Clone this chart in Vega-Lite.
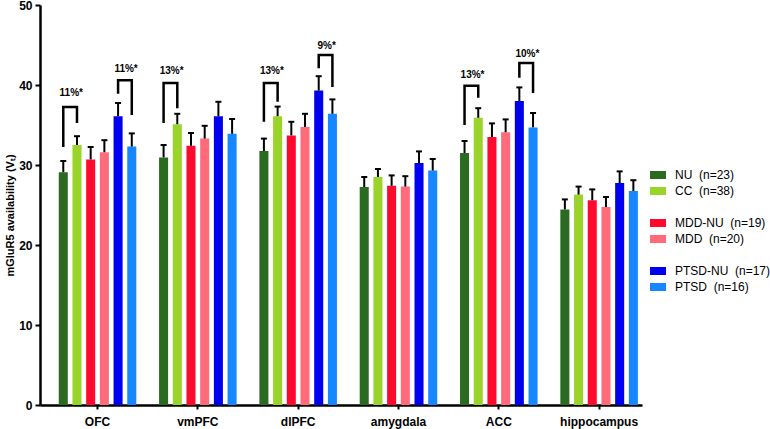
{
  "$schema": "https://vega.github.io/schema/vega-lite/v6.json",
  "width": 602,
  "height": 400,
  "autosize": "none",
  "padding": {"left": 40, "top": 5, "right": 128, "bottom": 24},
  "background": "white",
  "config": {"view": {"stroke": null}, "font": "Liberation Sans"},
  "datasets": {
    "bars": [
      {"region": "OFC", "group": "NU", "value": 29.1, "err": 30.5},
      {"region": "OFC", "group": "CC", "value": 32.5, "err": 33.6},
      {"region": "OFC", "group": "MDD-NU", "value": 30.7, "err": 32.25},
      {"region": "OFC", "group": "MDD", "value": 31.6, "err": 33.1},
      {"region": "OFC", "group": "PTSD-NU", "value": 36.1, "err": 37.75},
      {"region": "OFC", "group": "PTSD", "value": 32.3, "err": 33.95},
      {"region": "vmPFC", "group": "NU", "value": 30.95, "err": 32.5},
      {"region": "vmPFC", "group": "CC", "value": 35.1, "err": 36.4},
      {"region": "vmPFC", "group": "MDD-NU", "value": 32.4, "err": 34.0},
      {"region": "vmPFC", "group": "MDD", "value": 33.3, "err": 34.9},
      {"region": "vmPFC", "group": "PTSD-NU", "value": 36.1, "err": 37.9},
      {"region": "vmPFC", "group": "PTSD", "value": 33.9, "err": 35.75},
      {"region": "dlPFC", "group": "NU", "value": 31.75, "err": 33.3},
      {"region": "dlPFC", "group": "CC", "value": 36.1, "err": 37.3},
      {"region": "dlPFC", "group": "MDD-NU", "value": 33.7, "err": 35.4},
      {"region": "dlPFC", "group": "MDD", "value": 34.75, "err": 36.4},
      {"region": "dlPFC", "group": "PTSD-NU", "value": 39.3, "err": 41.1},
      {"region": "dlPFC", "group": "PTSD", "value": 36.4, "err": 38.2},
      {"region": "amygdala", "group": "NU", "value": 27.25, "err": 28.5},
      {"region": "amygdala", "group": "CC", "value": 28.5, "err": 29.5},
      {"region": "amygdala", "group": "MDD-NU", "value": 27.4, "err": 28.7},
      {"region": "amygdala", "group": "MDD", "value": 27.3, "err": 28.6},
      {"region": "amygdala", "group": "PTSD-NU", "value": 30.25, "err": 31.7},
      {"region": "amygdala", "group": "PTSD", "value": 29.3, "err": 30.75},
      {"region": "ACC", "group": "NU", "value": 31.5, "err": 33.0},
      {"region": "ACC", "group": "CC", "value": 35.9, "err": 37.1},
      {"region": "ACC", "group": "MDD-NU", "value": 33.5, "err": 35.2},
      {"region": "ACC", "group": "MDD", "value": 34.1, "err": 35.7},
      {"region": "ACC", "group": "PTSD-NU", "value": 38.0, "err": 39.7},
      {"region": "ACC", "group": "PTSD", "value": 34.7, "err": 36.5},
      {"region": "hippocampus", "group": "NU", "value": 24.45, "err": 25.7},
      {"region": "hippocampus", "group": "CC", "value": 26.3, "err": 27.3},
      {"region": "hippocampus", "group": "MDD-NU", "value": 25.6, "err": 26.95},
      {"region": "hippocampus", "group": "MDD", "value": 24.75, "err": 26.0},
      {"region": "hippocampus", "group": "PTSD-NU", "value": 27.75, "err": 29.2},
      {"region": "hippocampus", "group": "PTSD", "value": 26.75, "err": 28.1}
    ],
    "brackets": [
      {"id": "b1", "region": "OFC", "group": "NU", "yv": 32.25, "ord": 0},
      {"id": "b1", "region": "OFC", "group": "NU", "yv": 37.25, "ord": 1},
      {"id": "b1", "region": "OFC", "group": "CC", "yv": 37.25, "ord": 2},
      {"id": "b1", "region": "OFC", "group": "CC", "yv": 35.25, "ord": 3},
      {"id": "b2", "region": "OFC", "group": "PTSD-NU", "yv": 38.9, "ord": 0},
      {"id": "b2", "region": "OFC", "group": "PTSD-NU", "yv": 40.6, "ord": 1},
      {"id": "b2", "region": "OFC", "group": "PTSD", "yv": 40.6, "ord": 2},
      {"id": "b2", "region": "OFC", "group": "PTSD", "yv": 36.25, "ord": 3},
      {"id": "b3", "region": "vmPFC", "group": "NU", "yv": 35.25, "ord": 0},
      {"id": "b3", "region": "vmPFC", "group": "NU", "yv": 40.25, "ord": 1},
      {"id": "b3", "region": "vmPFC", "group": "CC", "yv": 40.25, "ord": 2},
      {"id": "b3", "region": "vmPFC", "group": "CC", "yv": 37.1, "ord": 3},
      {"id": "b4", "region": "dlPFC", "group": "NU", "yv": 35.4, "ord": 0},
      {"id": "b4", "region": "dlPFC", "group": "NU", "yv": 40.25, "ord": 1},
      {"id": "b4", "region": "dlPFC", "group": "CC", "yv": 40.25, "ord": 2},
      {"id": "b4", "region": "dlPFC", "group": "CC", "yv": 37.9, "ord": 3},
      {"id": "b5", "region": "dlPFC", "group": "PTSD-NU", "yv": 42.1, "ord": 0},
      {"id": "b5", "region": "dlPFC", "group": "PTSD-NU", "yv": 43.75, "ord": 1},
      {"id": "b5", "region": "dlPFC", "group": "PTSD", "yv": 43.75, "ord": 2},
      {"id": "b5", "region": "dlPFC", "group": "PTSD", "yv": 39.75, "ord": 3},
      {"id": "b6", "region": "ACC", "group": "NU", "yv": 35.0, "ord": 0},
      {"id": "b6", "region": "ACC", "group": "NU", "yv": 39.9, "ord": 1},
      {"id": "b6", "region": "ACC", "group": "CC", "yv": 39.9, "ord": 2},
      {"id": "b6", "region": "ACC", "group": "CC", "yv": 38.4, "ord": 3},
      {"id": "b7", "region": "ACC", "group": "PTSD-NU", "yv": 40.9, "ord": 0},
      {"id": "b7", "region": "ACC", "group": "PTSD-NU", "yv": 42.75, "ord": 1},
      {"id": "b7", "region": "ACC", "group": "PTSD", "yv": 42.75, "ord": 2},
      {"id": "b7", "region": "ACC", "group": "PTSD", "yv": 39.0, "ord": 3}
    ],
    "labels": [
      {"region": "OFC", "group": "NU", "yv": 39.0, "label": "11%*"},
      {"region": "OFC", "group": "PTSD-NU", "yv": 42.0, "label": "11%*"},
      {"region": "vmPFC", "group": "NU", "yv": 41.75, "label": "13%*"},
      {"region": "dlPFC", "group": "NU", "yv": 41.75, "label": "13%*"},
      {"region": "dlPFC", "group": "PTSD-NU", "yv": 44.9, "label": "9%*"},
      {"region": "ACC", "group": "NU", "yv": 41.25, "label": "13%*"},
      {"region": "ACC", "group": "PTSD-NU", "yv": 43.9, "label": "10%*"}
    ]
  },
  "encoding": {
    "x": {
      "field": "region",
      "type": "nominal",
      "scale": {"domain": ["OFC", "vmPFC", "dlPFC", "amygdala", "ACC", "hippocampus"], "paddingInner": 0.227, "paddingOuter": 0.114, "align": 0.82},
      "axis": {"title": null, "labelAngle": 0, "labelFontWeight": "bold", "labelFontSize": 12, "labelColor": "black", "tickSize": 4, "tickWidth": 2, "tickColor": "black", "domainColor": "black", "domainWidth": 2.5, "labelPadding": 7}
    },
    "xOffset": {
      "field": "group",
      "type": "nominal",
      "scale": {"domain": ["NU", "CC", "MDD-NU", "MDD", "PTSD-NU", "PTSD"], "paddingInner": 0.34, "paddingOuter": 0}
    }
  },
  "layer": [
    {
      "data": {"name": "bars"},
      "mark": {"type": "bar"},
      "encoding": {
        "y": {
          "field": "value",
          "type": "quantitative",
          "scale": {"domain": [0, 50]},
          "title": "mGluR5 availability (Vₜ)",
          "axis": {"values": [0, 10, 20, 30, 40, 50], "grid": false, "labelFontWeight": "bold", "labelFontSize": 12, "labelColor": "black", "tickSize": 5, "tickWidth": 2, "tickColor": "black", "domainColor": "black", "domainWidth": 2.5, "labelPadding": 3, "titleFontSize": 11, "titleFontWeight": "bold", "titleColor": "black", "titlePadding": 3, "titleY": 210}
        },
        "color": {
          "field": "group",
          "type": "nominal",
          "scale": {
            "domain": ["NU", "CC", "s1", "MDD-NU", "MDD", "s2", "PTSD-NU", "PTSD"],
            "range": ["#2b6b21", "#9ad42a", "#ffffff", "#ff0a2e", "#ff6b7b", "#ffffff", "#0000f0", "#1787ff"]
          },
          "legend": {
            "orient": "none",
            "legendX": 610,
            "legendY": 162,
            "title": null,
            "symbolType": "M-1,-0.5H1V0.5H-1Z",
            "symbolSize": 256,
            "symbolStrokeWidth": 0,
            "labelFontSize": 12,
            "labelColor": "black",
            "labelOffset": 9,
            "rowPadding": 2,
            "labelExpr": "datum.label == 'NU' ? 'NU\u00a0\u00a0(n=23)' : datum.label == 'CC' ? 'CC\u00a0\u00a0(n=38)' : datum.label == 'MDD-NU' ? 'MDD-NU\u00a0\u00a0(n=19)' : datum.label == 'MDD' ? 'MDD\u00a0\u00a0(n=20)' : datum.label == 'PTSD-NU' ? 'PTSD-NU\u00a0\u00a0(n=17)' : datum.label == 'PTSD' ? 'PTSD\u00a0\u00a0(n=16)' : ''"
          }
        }
      }
    },
    {
      "data": {"name": "bars"},
      "mark": {"type": "rule", "color": "black", "strokeWidth": 2},
      "encoding": {
        "y": {"field": "value", "type": "quantitative", "title": "mGluR5 availability (Vₜ)"},
        "y2": {"field": "err"}
      }
    },
    {
      "data": {"name": "bars"},
      "mark": {"type": "tick", "orient": "horizontal", "color": "black", "size": 6, "thickness": 2, "opacity": 1},
      "encoding": {
        "y": {"field": "err", "type": "quantitative", "title": "mGluR5 availability (Vₜ)"}
      }
    },
    {
      "data": {"name": "brackets"},
      "mark": {"type": "line", "color": "black", "strokeWidth": 2.5, "strokeJoin": "miter"},
      "encoding": {
        "y": {"field": "yv", "type": "quantitative", "title": "mGluR5 availability (Vₜ)"},
        "detail": {"field": "id"},
        "order": {"field": "ord", "type": "quantitative"}
      }
    },
    {
      "data": {"name": "labels"},
      "mark": {"type": "text", "fontWeight": "bold", "fontSize": 10, "dx": 8, "baseline": "middle", "color": "black"},
      "encoding": {
        "y": {"field": "yv", "type": "quantitative", "title": "mGluR5 availability (Vₜ)"},
        "text": {"field": "label"}
      }
    }
  ]
}
